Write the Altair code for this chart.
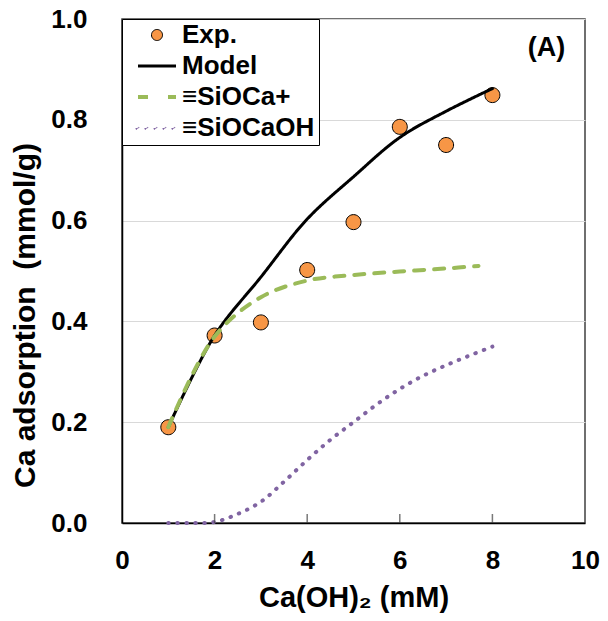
import altair as alt
import pandas as pd

# ---- data ----
series_names = ["Exp.", "Model", "≡SiOCa+", "≡SiOCaOH"]
fill_colors = ["#F79646", "#000000", "#9BBB59", "#8064A2"]
stroke_colors = ["#000000", "#000000", "#9BBB59", "#8064A2"]
stroke_widths = [1, 3, 4, 4]
line_dashes = [[1, 0], [1, 0], [10, 10], [0.5, 8.5]]
# legend glyphs (unit box -1..1): small circle, solid line, dashed line, dotted line
legend_shapes = [
    "M-0.29,0A0.29,0.29,0,1,0,0.29,0A0.29,0.29,0,1,0,-0.29,0Z",
    "M-1,0H1",
    "M-1,0H-0.1M0.58,0H1",
    "M-1.03,0A0.03,0.03,0,1,0,-0.97,0A0.03,0.03,0,1,0,-1.03,0Z"
    "M-0.56,0A0.03,0.03,0,1,0,-0.5,0A0.03,0.03,0,1,0,-0.56,0Z"
    "M-0.08,0A0.03,0.03,0,1,0,-0.02,0A0.03,0.03,0,1,0,-0.08,0Z"
    "M0.39,0A0.03,0.03,0,1,0,0.45,0A0.03,0.03,0,1,0,0.39,0Z"
    "M0.86,0A0.03,0.03,0,1,0,0.92,0A0.03,0.03,0,1,0,0.86,0Z",
]

exp_x = [1, 2, 3, 4, 5, 6, 7, 8]
exp_y = [0.19, 0.372, 0.398, 0.502, 0.597, 0.786, 0.750, 0.849]

model_x = [1, 2, 3, 4, 5, 6, 7, 8]
model_y = [0.19, 0.372, 0.488, 0.603, 0.687, 0.765, 0.817, 0.862]

sioca_x = [1, 2, 3, 4, 5, 6, 7, 7.7]
sioca_y = [0.19, 0.37, 0.448, 0.481, 0.492, 0.499, 0.505, 0.51]

siocaoh_x = [1, 1.5, 2, 2.5, 3, 3.5, 4, 4.5, 5, 5.5, 6, 6.5, 7, 7.5, 8]
siocaoh_y = [0.0, 0.0, 0.002, 0.018, 0.042, 0.082, 0.125, 0.165, 0.2, 0.235,
             0.266, 0.292, 0.313, 0.332, 0.35]

x_ticks = [0, 2, 4, 6, 8, 10]
y_ticks = [0.0, 0.2, 0.4, 0.6, 0.8, 1.0]

ann_x = [9.17]
ann_y = [0.942]
ann_text = ["(A)"]

# ---- tables ----
exp_df = pd.DataFrame({"x": exp_x, "y": exp_y, "series": series_names[0]})
lines_df = pd.concat([
    pd.DataFrame({"x": model_x, "y": model_y, "series": series_names[1]}),
    pd.DataFrame({"x": sioca_x, "y": sioca_y, "series": series_names[2]}),
    pd.DataFrame({"x": siocaoh_x, "y": siocaoh_y, "series": series_names[3]}),
], ignore_index=True)
lines_df["order"] = range(len(lines_df))
ann_df = pd.DataFrame({"x": ann_x, "y": ann_y, "t": ann_text})
inner_ticks_df = pd.DataFrame({"x": x_ticks[1:-1], "y": [y_ticks[0]] * (len(x_ticks) - 2)})

FONT = "Liberation Sans"

legend_def = dict(
    title=None,
    orient="none",
    legendX=0,
    legendY=0,
    symbolSize=1444,
    clipHeight=24,
    padding=4,
    rowPadding=5,
    symbolOffset=10,
    labelOffset=4,
    labelFont=FONT,
    labelFontSize=26,
    labelFontWeight="bold",
    labelColor="black",
    strokeColor="black",
    fillColor="white",
    cornerRadius=0,
)

fill_scale = alt.Scale(domain=series_names, range=fill_colors)
stroke_scale = alt.Scale(domain=series_names, range=stroke_colors)
width_scale = alt.Scale(type="ordinal", domain=series_names, range=stroke_widths)
shape_scale = alt.Scale(domain=series_names, range=legend_shapes)
dash_scale = alt.Scale(domain=series_names, range=line_dashes)

x_enc = alt.X("x:Q", scale=alt.Scale(domain=[0, 10], nice=False),
              axis=alt.Axis(values=x_ticks, title="Ca(OH)₂ (mM)", format="d",
                            grid=False, ticks=False, labelPadding=24, titlePadding=10,
                            titleFontSize=29, labelFlush=False))
y_enc = alt.Y("y:Q", scale=alt.Scale(domain=[0, 1], nice=False),
              axis=alt.Axis(values=y_ticks, title="Ca adsorption\u00a0 (mmol/g)", format=".1f",
                            grid=True, ticks=False, labelPadding=35, titlePadding=10,
                            titleFontSize=30, titleY=296, labelFlush=False))

points = alt.Chart(exp_df).mark_point(filled=True, size=2675, opacity=1).encode(
    x=x_enc, y=y_enc,
    fill=alt.Fill("series:N", scale=fill_scale, legend=alt.Legend(**legend_def)),
    stroke=alt.Stroke("series:N", scale=stroke_scale, legend=alt.Legend(**legend_def)),
    strokeWidth=alt.StrokeWidth("series:N", scale=width_scale, legend=alt.Legend(**legend_def)),
    shape=alt.Shape("series:N", scale=shape_scale, legend=alt.Legend(**legend_def)),
)

lines = alt.Chart(lines_df).mark_line(strokeCap="round", interpolate="catmull-rom").encode(
    x="x:Q", y="y:Q",
    stroke=alt.Stroke("series:N", scale=stroke_scale, legend=alt.Legend(**legend_def)),
    strokeWidth=alt.StrokeWidth("series:N", scale=width_scale, legend=alt.Legend(**legend_def)),
    strokeDash=alt.StrokeDash("series:N", scale=dash_scale, legend=None),
    order="order:Q",
)

inner_ticks = alt.Chart(inner_ticks_df).mark_tick(
    orient="vertical", size=9, yOffset=-4.5, color="#404040", thickness=1.5
).encode(x="x:Q", y="y:Q")

ann = alt.Chart(ann_df).mark_text(font=FONT, fontSize=27, fontWeight="bold", color="black").encode(
    x="x:Q", y="y:Q", text="t:N"
)

chart = alt.layer(points, lines, inner_ticks, ann).properties(
    width=463, height=504,
    autosize=alt.AutoSizeParams(type="none"),
    padding={"left": 114, "top": 11, "right": 15, "bottom": 90},
).configure_view(
    stroke="#404040", strokeWidth=1.5
).configure_axis(
    labelFont=FONT, labelFontSize=26, labelFontWeight="bold", labelColor="black",
    titleFont=FONT, titleFontWeight="bold", titleColor="black",
    domainColor="black", domainWidth=1.5, gridColor="#d9d9d9", gridWidth=1,
)

chart.save("out.html", embed_options={"renderer": "svg", "actions": False})
